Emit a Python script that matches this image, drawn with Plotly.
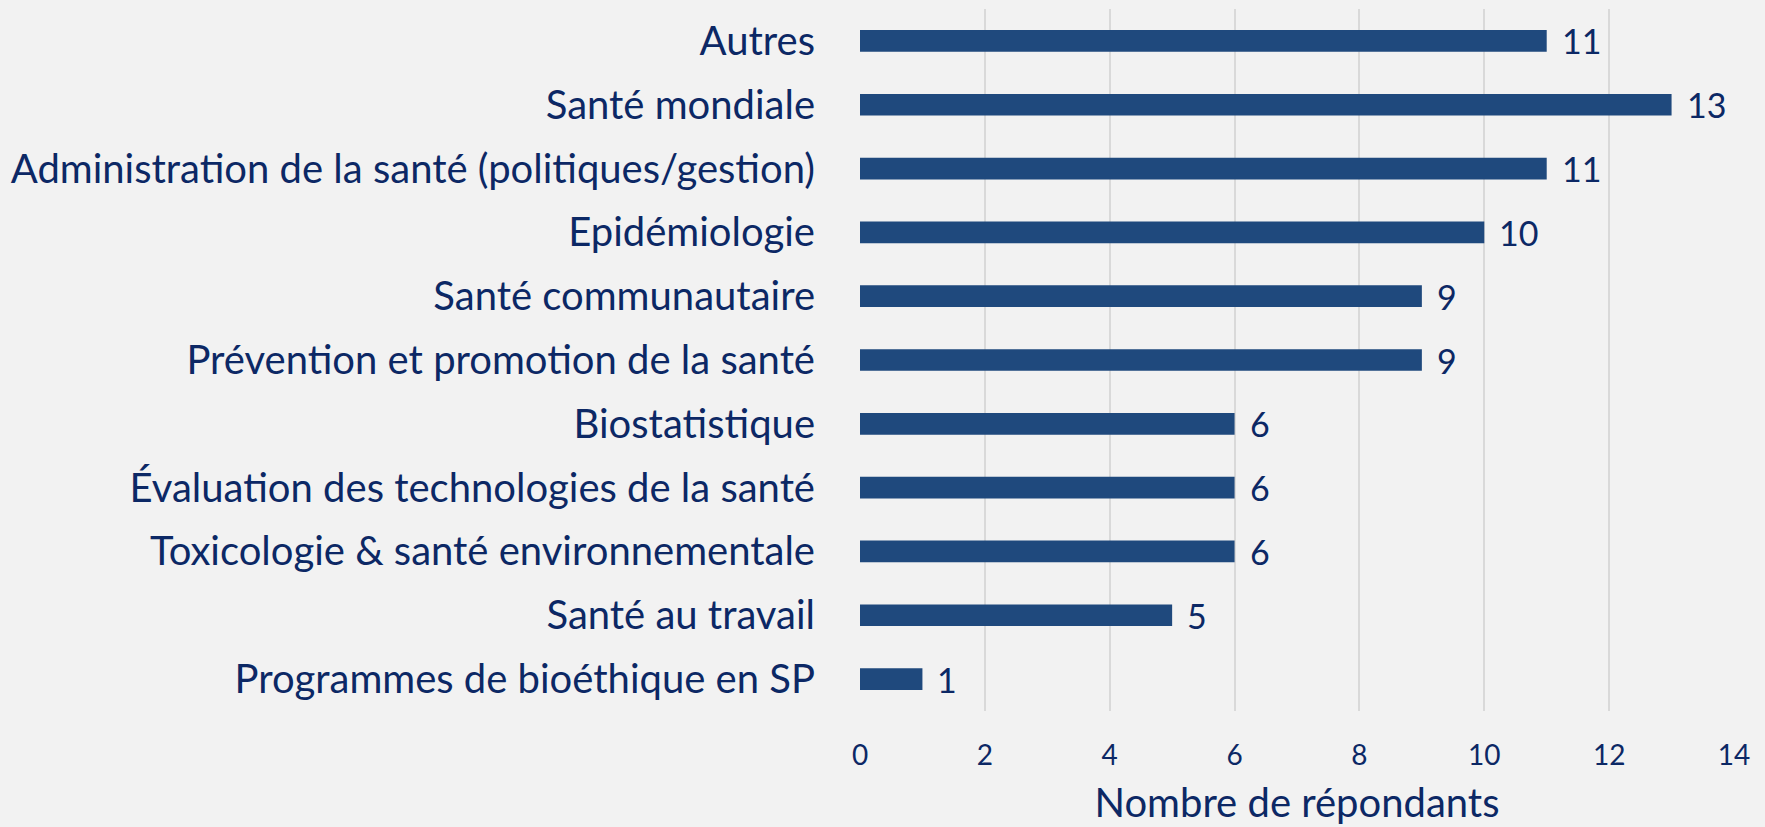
import plotly.graph_objects as go

categories = [
    "Autres",
    "Santé mondiale",
    "Administration de la santé (politiques/gestion)",
    "Epidémiologie",
    "Santé communautaire",
    "Prévention et promotion de la santé",
    "Biostatistique",
    "Évaluation des technologies de la santé",
    "Toxicologie & santé environnementale",
    "Santé au travail",
    "Programmes de bioéthique en SP",
]
values = [11, 13, 11, 10, 9, 9, 6, 6, 6, 5, 1]
x_ticks = [0, 2, 4, 6, 8, 10, 12, 14]
x_title = "Nombre de répondants"

BAR = "#1F497D"
TXT = "#0C2865"
FONT = "Lato"

fig = go.Figure()
fig.add_trace(go.Bar(
    x=values, y=categories, orientation="h",
    marker=dict(color=BAR, line=dict(width=0)),
    hoverinfo="x+y",
))

for c, v in zip(categories, values):
    fig.add_annotation(x=v, y=c, text=str(v), showarrow=False,
                       xanchor="left", xshift=13,
                       font=dict(family=FONT, size=34, color=TXT))

fig.update_layout(
    width=1765, height=827,
    paper_bgcolor="#F2F2F2", plot_bgcolor="#F2F2F2",
    margin=dict(l=860, r=31, t=9, b=116),
    bargap=0.66,
    showlegend=False,
    font=dict(family=FONT, color=TXT),
    xaxis=dict(
        range=[0, 14], tickvals=x_ticks, ticktext=[str(t) for t in x_ticks],
        showgrid=True, gridcolor="#D9D9D9", gridwidth=2,
        zeroline=False, showline=False,
        tickfont=dict(family=FONT, size=28, color=TXT),
        ticks="", ticklabelstandoff=25,
        title=dict(text=x_title, font=dict(family=FONT, size=40, color=TXT), standoff=18),
    ),
    yaxis=dict(
        autorange="reversed",
        showgrid=False, zeroline=False, showline=False,
        tickfont=dict(family=FONT, size=40, color=TXT),
        ticks="", ticklabelstandoff=44,
    ),
)

fig.write_html("out.html", config={"displayModeBar": False},
               post_script="document.body.style.margin='0';document.body.style.overflow='hidden';")
